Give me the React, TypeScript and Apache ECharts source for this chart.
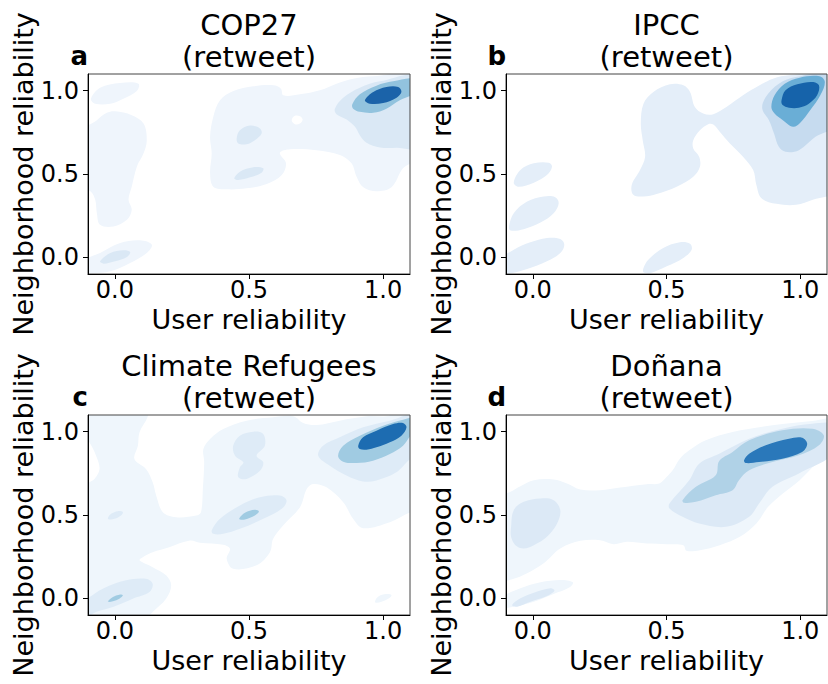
import React, { useEffect, useRef } from "react";
import * as echarts from "echarts";

type Contour = { level: number; pts: number[][] };

const panelTitles = ["COP27", "IPCC", "Climate Refugees", "Doñana"];
const panelLetters = ["a", "b", "c", "d"];
const subtitle = "(retweet)";
const tickValues = [0, 0.5, 1.0];
const xLabel = "User reliability";
const yLabel = "Neighborhood reliability";
const axisMin = -0.1;
const axisMax = 1.1;

// level colours (0 = white hole, 1..4 = KDE density levels), one palette per panel
const cop27Colors = ["#ffffff", "#eff5fc", "#dae8f5", "#92c3de", "#1b63a9"];
const ipccColors = ["#ffffff", "#e4eef9", "#c6dbef", "#6aaed6", "#1663aa"];
const refugeesColors = ["#ffffff", "#eff6fc", "#deebf7", "#a0cbe2", "#1d6cb1"];
const donanaColors = ["#ffffff", "#eff6fc", "#dce9f6", "#b0d2e7", "#2a78ba"];

// contour polygons, [user reliability, neighborhood reliability]
const cop27Contours: Contour[] = [
  { level: 1, pts: [[-0.089, 0.952], [-0.055, 1.018], [0.02, 1.046], [0.088, 1.042], [0.082, 0.998], [0.032, 0.952], [-0.017, 0.922], [-0.073, 0.922]] },
  { level: 1, pts: [[0.001, 0.876], [0.063, 0.853], [0.107, 0.803], [0.119, 0.703], [0.107, 0.624], [0.082, 0.544], [0.063, 0.424], [0.051, 0.345], [0.063, 0.285], [0.045, 0.225], [-0.005, 0.185], [-0.055, 0.195], [-0.067, 0.265], [-0.073, 0.345], [-0.089, 0.394], [-0.13, 0.424], [-0.13, 0.743], [-0.067, 0.823], [-0.03, 0.867]] },
  { level: 1, pts: [[-0.13, -0.09], [-0.13, -0.03], [-0.055, 0.026], [0.02, 0.086], [0.094, 0.102], [0.138, 0.076], [0.119, 0.026], [0.057, -0.034], [-0.017, -0.084], [-0.079, -0.095]] },
  { level: 1, pts: [[0.392, 0.942], [0.442, 0.998], [0.516, 1.026], [0.591, 1.032], [0.619, 1.012], [0.628, 0.972], [0.69, 0.978], [0.764, 1.002], [0.826, 1.042], [0.888, 1.072], [0.963, 1.086], [1.13, 1.086], [1.13, 0.604], [1.074, 0.534], [1.031, 0.42], [0.975, 0.396], [0.926, 0.42], [0.901, 0.484], [0.882, 0.564], [0.839, 0.614], [0.752, 0.643], [0.653, 0.649], [0.615, 0.627], [0.638, 0.564], [0.622, 0.494], [0.566, 0.44], [0.491, 0.414], [0.417, 0.408], [0.367, 0.424], [0.355, 0.504], [0.361, 0.624], [0.355, 0.723], [0.367, 0.843]] },
  { level: 0, pts: [[0.659, 0.823], [0.671, 0.849], [0.69, 0.847], [0.7, 0.827], [0.69, 0.803], [0.671, 0.799]] },
  { level: 2, pts: [[-0.055, -0.024], [-0.017, 0.026], [0.032, 0.042], [0.057, 0.032], [0.045, 0.002], [0.001, -0.024], [-0.042, -0.038]] },
  { level: 2, pts: [[0.454, 0.713], [0.466, 0.763], [0.504, 0.791], [0.541, 0.773], [0.547, 0.743], [0.522, 0.703], [0.491, 0.679], [0.46, 0.683]] },
  { level: 2, pts: [[0.445, 0.474], [0.466, 0.514], [0.516, 0.54], [0.553, 0.534], [0.547, 0.508], [0.504, 0.48], [0.46, 0.464]] },
  { level: 2, pts: [[0.82, 0.892], [0.851, 0.958], [0.913, 1.018], [0.988, 1.056], [1.13, 1.078], [1.13, 0.663], [1.05, 0.657], [0.988, 0.659], [0.938, 0.687], [0.913, 0.733], [0.895, 0.783], [0.864, 0.827], [0.826, 0.859]] },
  { level: 3, pts: [[0.885, 0.918], [0.913, 0.978], [0.975, 1.03], [1.037, 1.056], [1.13, 1.07], [1.13, 0.998], [1.062, 0.942], [1.012, 0.892], [0.963, 0.867], [0.913, 0.873], [0.888, 0.892]] },
  { level: 4, pts: [[0.932, 0.942], [0.963, 0.992], [1.012, 1.022], [1.056, 1.022], [1.068, 0.992], [1.05, 0.958], [1.0, 0.926], [0.95, 0.922]] },
];

const ipccContours: Contour[] = [
  { level: 1, pts: [[-0.071, 0.448], [-0.046, 0.524], [0.004, 0.564], [0.06, 0.568], [0.072, 0.544], [0.053, 0.494], [0.004, 0.448], [-0.052, 0.424]] },
  { level: 1, pts: [[-0.089, 0.185], [-0.071, 0.265], [-0.021, 0.335], [0.041, 0.365], [0.084, 0.361], [0.097, 0.325], [0.078, 0.265], [0.029, 0.209], [-0.034, 0.169], [-0.083, 0.161]] },
  { level: 1, pts: [[-0.12, -0.014], [-0.071, 0.046], [-0.009, 0.09], [0.053, 0.116], [0.103, 0.11], [0.118, 0.076], [0.103, 0.026], [0.053, -0.024], [-0.021, -0.07], [-0.083, -0.095], [-0.12, -0.095]] },
  { level: 1, pts: [[0.414, -0.064], [0.432, -0.014], [0.488, 0.056], [0.55, 0.09], [0.588, 0.082], [0.594, 0.046], [0.563, -0.004], [0.501, -0.054], [0.439, -0.095], [0.414, -0.09]] },
  { level: 1, pts: [[0.376, 0.375], [0.37, 0.434], [0.401, 0.524], [0.42, 0.604], [0.411, 0.703], [0.404, 0.803], [0.414, 0.922], [0.451, 0.992], [0.513, 1.038], [0.563, 1.032], [0.588, 0.992], [0.606, 0.902], [0.637, 0.863], [0.675, 0.859], [0.724, 0.902], [0.786, 0.972], [0.848, 1.032], [0.898, 1.072], [0.96, 1.092], [1.13, 1.092], [1.13, 0.404], [1.047, 0.345], [0.985, 0.315], [0.911, 0.321], [0.855, 0.355], [0.836, 0.434], [0.824, 0.524], [0.786, 0.604], [0.737, 0.683], [0.699, 0.753], [0.675, 0.797], [0.656, 0.799], [0.625, 0.763], [0.6, 0.703], [0.6, 0.653], [0.622, 0.604], [0.625, 0.544], [0.6, 0.484], [0.538, 0.424], [0.463, 0.38], [0.414, 0.365]] },
  { level: 2, pts: [[0.858, 0.892], [0.871, 0.962], [0.92, 1.042], [0.983, 1.082], [1.13, 1.094], [1.13, 0.793], [1.057, 0.723], [0.995, 0.643], [0.945, 0.633], [0.92, 0.663], [0.902, 0.743], [0.883, 0.823]] },
  { level: 3, pts: [[0.892, 0.902], [0.904, 0.972], [0.942, 1.042], [0.998, 1.078], [1.072, 1.086], [1.092, 1.052], [1.075, 0.972], [1.037, 0.882], [1.0, 0.807], [0.973, 0.783], [0.935, 0.823], [0.904, 0.863]] },
  { level: 4, pts: [[0.93, 0.942], [0.945, 1.002], [0.989, 1.038], [1.045, 1.052], [1.07, 1.032], [1.063, 0.972], [1.032, 0.922], [0.995, 0.898], [0.958, 0.898], [0.933, 0.916]] },
];

const refugeesContours: Contour[] = [
  { level: 1, pts: [[-0.15, -0.15], [1.15, -0.15], [1.15, 1.15], [-0.15, 1.15]] },
  { level: 0, pts: [[0.123, 1.157], [0.123, 1.092], [0.092, 0.996], [0.086, 0.916], [0.073, 0.836], [0.116, 0.776], [0.141, 0.696], [0.154, 0.617], [0.179, 0.517], [0.228, 0.487], [0.303, 0.497], [0.321, 0.517], [0.328, 0.656], [0.333, 0.816], [0.33, 0.896], [0.355, 0.956], [0.404, 1.016], [0.491, 1.066], [0.59, 1.086], [0.665, 1.092], [0.702, 1.052], [0.752, 1.04], [0.838, 1.066], [0.938, 1.092], [1.025, 1.099], [1.025, 1.157]] },
  { level: 0, pts: [[0.116, -0.13], [0.141, -0.082], [0.191, -0.002], [0.21, 0.078], [0.191, 0.138], [0.141, 0.187], [0.092, 0.228], [0.104, 0.247], [0.141, 0.277], [0.203, 0.307], [0.28, 0.347], [0.317, 0.333], [0.404, 0.321], [0.429, 0.297], [0.417, 0.237], [0.441, 0.177], [0.528, 0.198], [0.578, 0.277], [0.59, 0.357], [0.627, 0.437], [0.69, 0.547], [0.715, 0.656], [0.739, 0.686], [0.789, 0.666], [0.851, 0.577], [0.888, 0.477], [0.925, 0.421], [1.025, 0.457], [1.103, 0.517], [1.136, 0.517], [1.136, -0.13]] },
  { level: 0, pts: [[-0.107, 0.948], [-0.095, 0.936], [-0.07, 0.856], [-0.057, 0.776], [-0.076, 0.716], [-0.095, 0.696], [-0.107, 0.684]] },
  { level: 1, pts: [[0.969, -0.02], [0.981, 0.01], [1.012, 0.026], [1.031, 0.02], [1.022, 0.0], [0.994, -0.02], [0.975, -0.026]] },
  { level: 2, pts: [[0.441, 0.916], [0.466, 0.976], [0.516, 1.0], [0.553, 0.986], [0.559, 0.916], [0.528, 0.856], [0.553, 0.816], [0.541, 0.766], [0.491, 0.716], [0.46, 0.726], [0.466, 0.786], [0.479, 0.816], [0.448, 0.856]] },
  { level: 2, pts: [[0.361, 0.407], [0.392, 0.477], [0.466, 0.557], [0.541, 0.607], [0.615, 0.617], [0.64, 0.587], [0.622, 0.537], [0.553, 0.477], [0.466, 0.417], [0.404, 0.387], [0.367, 0.387]] },
  { level: 2, pts: [[-0.026, 0.481], [-0.014, 0.507], [0.011, 0.523], [0.03, 0.517], [0.023, 0.497], [-0.001, 0.477], [-0.02, 0.473]] },
  { level: 2, pts: [[-0.129, 0.0], [-0.107, -0.002], [-0.045, 0.058], [0.042, 0.108], [0.116, 0.117], [0.141, 0.087], [0.129, 0.038], [0.067, -0.002], [-0.007, -0.052], [-0.07, -0.082], [-0.129, -0.13]] },
  { level: 2, pts: [[0.758, 0.856], [0.776, 0.916], [0.838, 0.966], [0.925, 1.026], [1.025, 1.066], [1.136, 1.104], [1.136, 0.836], [1.103, 0.836], [1.049, 0.756], [0.975, 0.707], [0.925, 0.701], [0.863, 0.737], [0.801, 0.796]] },
  { level: 3, pts: [[0.464, 0.481], [0.485, 0.513], [0.522, 0.531], [0.537, 0.521], [0.522, 0.497], [0.485, 0.473], [0.466, 0.473]] },
  { level: 3, pts: [[-0.026, -0.018], [-0.007, 0.008], [0.017, 0.022], [0.03, 0.018], [0.017, -0.002], [-0.007, -0.018], [-0.022, -0.022]] },
  { level: 3, pts: [[0.832, 0.856], [0.851, 0.916], [0.913, 0.976], [1.0, 1.036], [1.074, 1.072], [1.136, 1.086], [1.136, 1.008], [1.103, 0.976], [1.074, 0.916], [1.025, 0.866], [0.962, 0.826], [0.901, 0.812], [0.851, 0.82]] },
  { level: 4, pts: [[0.907, 0.916], [0.925, 0.966], [0.975, 1.006], [1.037, 1.046], [1.074, 1.052], [1.087, 1.026], [1.068, 0.976], [1.025, 0.936], [0.975, 0.906], [0.938, 0.892], [0.913, 0.896]] },
];

const donanaContours: Contour[] = [
  { level: 1, pts: [[-0.12, 0.609], [-0.083, 0.639], [-0.046, 0.673], [0.004, 0.709], [0.078, 0.713], [0.128, 0.689], [0.178, 0.653], [0.252, 0.649], [0.327, 0.665], [0.426, 0.685], [0.473, 0.689], [0.501, 0.729], [0.523, 0.768], [0.55, 0.838], [0.585, 0.888], [0.647, 0.948], [0.747, 0.998], [0.896, 1.038], [1.045, 1.064], [1.13, 1.072], [1.13, 0.888], [1.06, 0.808], [0.998, 0.709], [0.935, 0.629], [0.88, 0.549], [0.836, 0.449], [0.774, 0.369], [0.699, 0.319], [0.625, 0.289], [0.575, 0.285], [0.563, 0.319], [0.501, 0.325], [0.426, 0.329], [0.352, 0.339], [0.302, 0.325], [0.252, 0.349], [0.178, 0.345], [0.103, 0.299], [0.041, 0.21], [-0.021, 0.15], [-0.077, 0.114], [-0.12, 0.11]] },
  { level: 1, pts: [[-0.12, 0.0], [-0.046, 0.06], [0.029, 0.096], [0.103, 0.11], [0.15, 0.096], [0.138, 0.066], [0.078, 0.026], [0.004, -0.02], [-0.071, -0.05], [-0.12, -0.054]] },
  { level: 2, pts: [[-0.077, -0.04], [-0.046, 0.0], [0.004, 0.034], [0.066, 0.06], [0.081, 0.046], [0.053, 0.014], [-0.009, -0.02], [-0.058, -0.05]] },
  { level: 2, pts: [[-0.081, 0.429], [-0.071, 0.529], [-0.034, 0.579], [0.029, 0.599], [0.078, 0.589], [0.103, 0.529], [0.091, 0.449], [0.053, 0.369], [0.004, 0.319], [-0.034, 0.299], [-0.065, 0.319], [-0.081, 0.369]] },
  { level: 2, pts: [[0.511, 0.569], [0.511, 0.539], [0.56, 0.489], [0.622, 0.449], [0.722, 0.429], [0.809, 0.489], [0.846, 0.569], [0.896, 0.669], [0.995, 0.749], [1.13, 0.878], [1.13, 1.038], [1.045, 1.048], [0.933, 1.018], [0.809, 0.958], [0.697, 0.868], [0.622, 0.808], [0.585, 0.709]] },
  { level: 3, pts: [[0.56, 0.589], [0.61, 0.669], [0.684, 0.739], [0.697, 0.824], [0.747, 0.878], [0.809, 0.948], [0.933, 1.008], [1.045, 1.018], [1.088, 0.978], [1.07, 0.918], [0.995, 0.858], [0.896, 0.818], [0.809, 0.768], [0.771, 0.709], [0.747, 0.649], [0.684, 0.619], [0.61, 0.579], [0.566, 0.573]] },
  { level: 4, pts: [[0.79, 0.828], [0.809, 0.868], [0.871, 0.918], [0.958, 0.958], [1.007, 0.964], [1.026, 0.928], [1.007, 0.878], [0.933, 0.838], [0.846, 0.818], [0.796, 0.812]] },
];

const panelContours = [cop27Contours, ipccContours, refugeesContours, donanaContours];
const panelColors = [cop27Colors, ipccColors, refugeesColors, donanaColors];

const FONT = "DejaVu Sans";
const gridBoxes = [
  { left: 88, top: 74, width: 322, height: 200 },
  { left: 506, top: 74, width: 321, height: 200 },
  { left: 88, top: 415, width: 322, height: 200 },
  { left: 506, top: 415, width: 321, height: 200 },
];

export default function App() {
  const ref = useRef<HTMLDivElement>(null);
  useEffect(() => {
    if (!ref.current) return;
    const chart = echarts.init(ref.current, undefined, { renderer: "svg" });

    const grid = gridBoxes.map((g) => ({
      ...g,
      show: true,
      z: 10,
      borderColor: "#444",
      borderWidth: 1,
      backgroundColor: "transparent",
    }));

    const xAxis = gridBoxes.map((_, i) => ({
      gridIndex: i,
      type: "value",
      min: axisMin,
      max: axisMax,
      z: 11,
      splitLine: { show: false },
      axisLine: { show: true, onZero: false, lineStyle: { color: "#000", width: 1 } },
      axisTick: { show: true, inside: false, length: 5, customValues: tickValues, lineStyle: { color: "#000", width: 1 } },
      axisLabel: {
        customValues: tickValues,
        formatter: (v: number) => v.toFixed(1),
        fontSize: 24,
        color: "#000",
        fontFamily: FONT,
        margin: 4,
      },
      name: xLabel,
      nameLocation: "middle",
      nameGap: 32,
      nameTextStyle: { fontSize: 27, color: "#000", fontFamily: FONT },
    }));

    const yAxis = gridBoxes.map((_, i) => ({
      gridIndex: i,
      type: "value",
      min: axisMin,
      max: axisMax,
      z: 11,
      splitLine: { show: false },
      axisLine: { show: true, onZero: false, lineStyle: { color: "#000", width: 1 } },
      axisTick: { show: true, inside: false, length: 5, customValues: tickValues, lineStyle: { color: "#000", width: 1 } },
      axisLabel: {
        customValues: tickValues,
        formatter: (v: number) => v.toFixed(1),
        fontSize: 24,
        color: "#000",
        fontFamily: FONT,
        margin: 9,
      },
      name: yLabel,
      nameLocation: "middle",
      nameRotate: 90,
      nameGap: 48,
      nameTextStyle: { fontSize: 27, color: "#000", fontFamily: FONT },
    }));

    const series = panelContours.map((contours, i) => ({
      type: "custom",
      xAxisIndex: i,
      yAxisIndex: i,
      clip: true,
      z: 2,
      silent: true,
      data: contours.map((_, k) => [k]),
      encode: { x: -1, y: -1 },
      renderItem: (params: any, api: any) => {
        const c = contours[params.dataIndex];
        const points = c.pts.map((p) => api.coord(p));
        return {
          type: "polygon",
          shape: { points, smooth: 0.35 },
          style: { fill: panelColors[i][c.level], stroke: "none" },
        };
      },
    }));

    const graphic: any[] = [];
    gridBoxes.forEach((g, i) => {
      const cx = g.left + g.width / 2;
      graphic.push({
        type: "text",
        x: cx,
        y: g.top - 49,
        style: { text: panelTitles[i], font: `29px "${FONT}"`, fill: "#000", textAlign: "center", textVerticalAlign: "middle" },
      });
      graphic.push({
        type: "text",
        x: cx,
        y: g.top - 17,
        style: { text: subtitle, font: `29px "${FONT}"`, fill: "#000", textAlign: "center", textVerticalAlign: "middle" },
      });
      graphic.push({
        type: "text",
        x: g.left,
        y: g.top - 18,
        style: { text: panelLetters[i], font: `bold 26px "${FONT}"`, fill: "#000", textAlign: "right", textVerticalAlign: "middle" },
      });
    });

    chart.setOption({
      animation: false,
      backgroundColor: "#ffffff",
      grid,
      xAxis,
      yAxis,
      series,
      graphic,
    } as any);

    return () => chart.dispose();
  }, []);

  return <div ref={ref} style={{ position: "fixed", left: 0, top: 0, width: 828, height: 684 }} />;
}
